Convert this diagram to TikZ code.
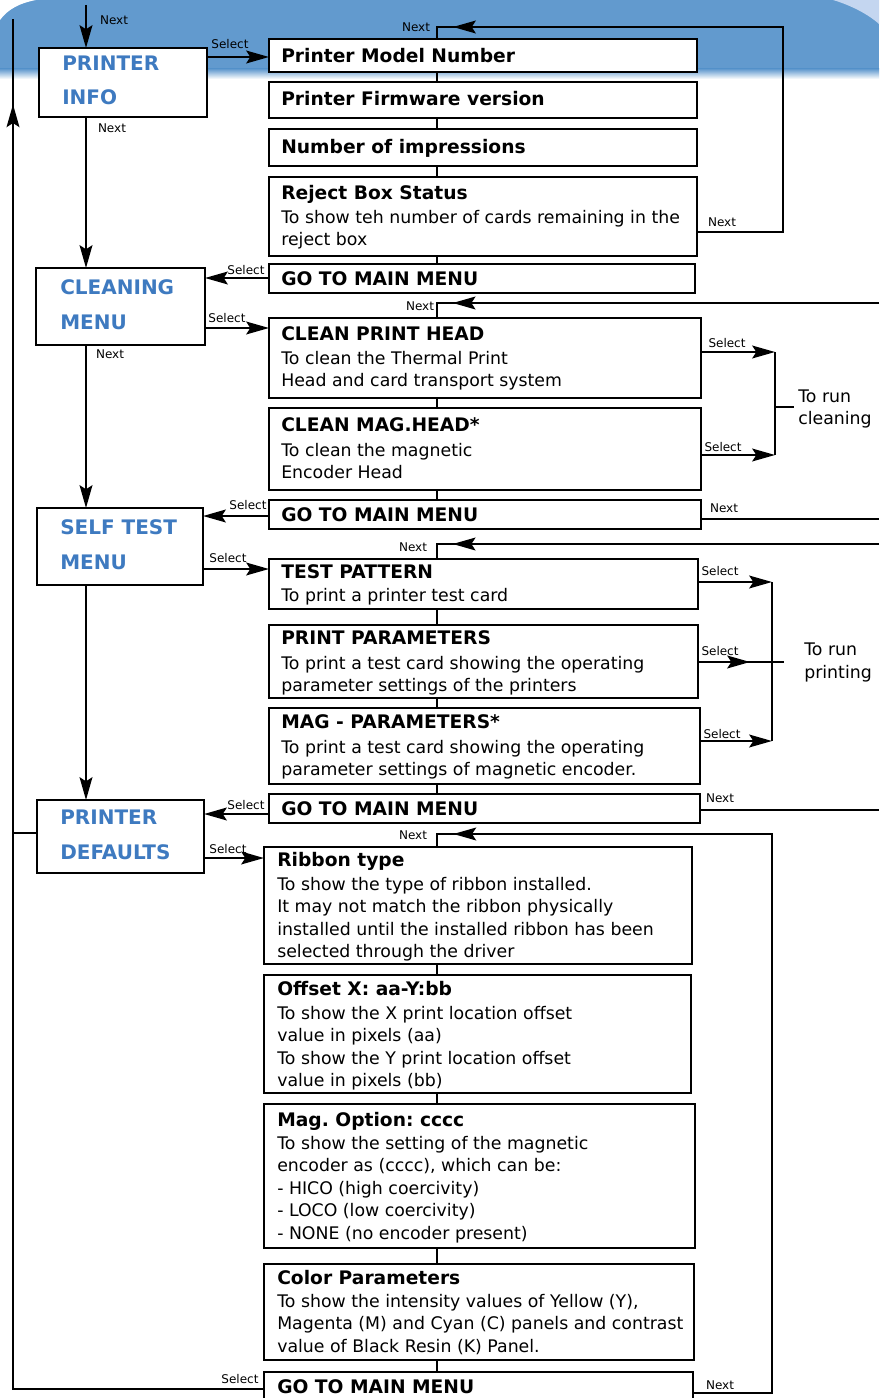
\documentclass[tikz,border=0pt]{standalone}
\usepackage{fontspec}
\setmainfont{DejaVu Sans}
\frenchspacing
\usetikzlibrary{arrows.meta,decorations.markings,calc}
\definecolor{bgblue}{RGB}{98,154,206}
\definecolor{bglight}{RGB}{196,214,240}
\definecolor{menublue}{RGB}{62,122,192}
\tikzset{
 boxst/.style={draw=black, fill=white, line width=2.2pt, inner sep=0pt, outer sep=0pt, anchor=north west},
 menust/.style={font=\fontsize{15}{18}\selectfont\bfseries, text=menublue, anchor=mid west, inner sep=0pt, yshift=-2.2pt},
 titlest/.style={font=\fontsize{14}{17}\selectfont\bfseries, anchor=mid west, inner sep=0pt, yshift=-2.2pt},
 bodyst/.style={font=\fontsize{13}{16}\selectfont, anchor=mid west, inner sep=0pt, yshift=-2.2pt},
 lblst/.style={font=\fontsize{9}{11}\selectfont, inner sep=0pt},
 conn/.style={line width=2.2pt},
 thinconn/.style={line width=1.7pt},
 arr/.style={conn, -{Stealth[length=17pt,width=9.5pt,inset=3pt]}},
 midarr/.style={conn, postaction={decorate}, decoration={markings, mark=at position #1 with {\arrow{Stealth[length=17pt,width=9.5pt,inset=3pt]}}}},
}
\newcommand\mybox[5]{\node[boxst, minimum width={(#4-#2)*0.75pt}, minimum height={(#5-#3)*0.75pt}] (#1) at (#2,#3) {};}
\newcommand\txtlines[5]{\foreach \tx [count=\i from 0] in {#5} {\node[#4] (#1-\i) at (#2,{#3+22.4*\i}) {\tx};}}
\begin{document}
\begin{tikzpicture}[x=0.75pt,y=-0.75pt]
\useasboundingbox (0,0) rectangle (879,1398);
\clip (0,0) rectangle (879,1398);
% background band
\fill[bgblue] (0,0) rectangle (879,70);
\shade[top color=bgblue, bottom color=white] (0,69) rectangle (879,79);
\fill[white] (0,20) .. controls (8,9) and (20,3) .. (36,0) -- (0,0) -- cycle;
\fill[bglight] (833,0) .. controls (850,5) and (868,14) .. (879,24) -- (879,0) -- cycle;

% menu boxes
\mybox{m1}{39}{48}{207}{117}
\mybox{m2}{36}{268}{205}{345}
\mybox{m3}{37}{508}{203}{585}
\mybox{m4}{37}{800}{204}{873}
\node[menust] (m1a) at (62,64) {PRINTER};
\node[menust] (m1b) at (62,98) {INFO};
\node[menust] (m2a) at (60,288) {CLEANING};
\node[menust] (m2b) at (60,323) {MENU};
\node[menust] (m3a) at (60,528) {SELF TEST};
\node[menust] (m3b) at (60,563) {MENU};
\node[menust] (m4a) at (60,818) {PRINTER};
\node[menust] (m4b) at (60,853) {DEFAULTS};

% group 1
\mybox{b11}{269}{39}{697}{72}
\mybox{b12}{269}{82}{697}{118}
\mybox{b13}{269}{129}{697}{166}
\mybox{b14}{269}{177}{697}{256}
\mybox{b15}{269}{264}{695}{293}
\node[titlest] (b11t) at (281,56) {Printer Model Number};
\node[titlest] (b12t) at (281,99) {Printer Firmware version};
\node[titlest] (b13t) at (281,147) {Number of impressions};
\node[titlest] (b14t) at (281,193) {Reject Box Status};
\txtlines{b14l}{281}{217}{bodyst}{To show teh number of cards remaining in the,reject box}
\node[titlest] (b15t) at (281,279) {GO TO MAIN MENU};

% group 2
\mybox{b21}{269}{318}{701}{398}
\mybox{b22}{269}{408}{701}{490}
\mybox{b23}{269}{500}{701}{529}
\node[titlest] (b21t) at (281,334) {CLEAN PRINT HEAD};
\txtlines{b21l}{281}{358}{bodyst}{To clean the Thermal Print,Head and card transport system}
\node[titlest] (b22t) at (281,425) {CLEAN MAG.HEAD*};
\txtlines{b22l}{281}{450}{bodyst}{To clean the magnetic,Encoder Head}
\node[titlest] (b23t) at (281,515) {GO TO MAIN MENU};

% group 3
\mybox{b31}{269}{559}{698}{609}
\mybox{b32}{269}{625}{698}{698}
\mybox{b33}{269}{708}{700}{784}
\mybox{b34}{269}{794}{700}{823}
\node[titlest] (b31t) at (281,572) {TEST PATTERN};
\txtlines{b31l}{281}{595}{bodyst}{To print a printer test card}
\node[titlest] (b32t) at (281,638) {PRINT PARAMETERS};
\txtlines{b32l}{281}{663}{bodyst}{To print a test card showing the operating,parameter settings of the printers}
\node[titlest] (b33t) at (281,722) {MAG - PARAMETERS*};
\txtlines{b33l}{281}{747}{bodyst}{To print a test card showing the operating,parameter settings of magnetic encoder.}
\node[titlest] (b34t) at (281,809) {GO TO MAIN MENU};

% group 4
\mybox{b41}{264}{847}{692}{964}
\mybox{b42}{264}{975}{691}{1093}
\mybox{b43}{264}{1104}{695}{1248}
\mybox{b44}{264}{1264}{694}{1360}
\mybox{b45}{264}{1372}{693}{1410}
\node[titlest] (b41t) at (277,860) {Ribbon type};
\txtlines{b41l}{277}{884}{bodyst}{To show the type of ribbon installed.,It may not match the ribbon physically,installed until the installed ribbon has been,selected through the driver}
\node[titlest] (b42t) at (277,989) {Offset X: aa-Y:bb};
\txtlines{b42l}{277}{1013}{bodyst}{To show the X print location offset,value in pixels (aa),To show the Y print location offset,value in pixels (bb)}
\node[titlest] (b43t) at (277,1120) {Mag. Option: cccc};
\txtlines{b43l}{277}{1143}{bodyst}{To show the setting of the magnetic,{encoder as (cccc), which can be:},- HICO (high coercivity),- LOCO (low coercivity),- NONE (no encoder present)}
\node[titlest] (b44t) at (277,1278) {Color Parameters};
\txtlines{b44l}{277}{1301}{bodyst}{{To show the intensity values of Yellow (Y),},Magenta (M) and Cyan (C) panels and contrast,value of Black Resin (K) Panel.}
\node[titlest] (b45t) at (277,1387) {GO TO MAIN MENU};

% thin connectors between stacked boxes
\coordinate (vx) at (437,0);
\foreach \a/\b in {b11/b12,b12/b13,b13/b14,b14/b15,b21/b22,b22/b23,b31/b32,b32/b33,b33/b34,b41/b42,b42/b43,b43/b44,b44/b45}
  \draw[thinconn] (\a.south -| vx) -- (\b.north -| vx);

% left column arrows
\coordinate (topin) at (86,5);
\draw[arr] (topin) -- (topin |- m1.north);
\draw[arr] (m1.south -| topin) -- (m2.north -| topin);
\draw[arr] (m2.south -| topin) -- (m3.north -| topin);
\draw[arr] (m3.south -| topin) -- (m4.north -| topin);
\node[lblst] (n0) at (114,20) {Next};
\node[lblst] (n1) at (112,128) {Next};
\node[lblst] (n2) at (110,354) {Next};

% select arrows between menus and groups
\draw[arr] (m1.east |- 0,57) -- (b11.west |- 0,57);
\draw[arr] (b15.west |- 0,278) -- (m2.east |- 0,278);
\draw[arr] (m2.east |- 0,328) -- (b21.west |- 0,328);
\draw[arr] (b23.west |- 0,516) -- (m3.east |- 0,516);
\draw[arr] (m3.east |- 0,569) -- (b31.west |- 0,569);
\draw[arr] (b34.west |- 0,814) -- (m4.east |- 0,814);
\draw[arr] (m4.east |- 0,858) -- (b41.west |- 0,858);
\node[lblst] (s1l) at (230,44) {Select};
\node[lblst] (s2l) at (246,270) {Select};
\node[lblst] (s3l) at (227,318) {Select};
\node[lblst] (s4l) at (248,505) {Select};
\node[lblst] (s5l) at (228,558) {Select};
\node[lblst] (s6l) at (246,805) {Select};
\node[lblst] (s7l) at (228,849) {Select};
\node[lblst] (s8l) at (240,1379) {Select};

% left return loop
\coordinate (lp1) at (13,1389);
\coordinate (lp2) at (13,19);
\draw[midarr=-64pt] (b45.west |- lp1) -- (lp1) -- (lp2);
\draw[conn] (lp1 |- 0,833) -- (m4.west |- 0,833);

% loop 1
\coordinate (c1a) at (783,232);
\coordinate (c1b) at (783,27);
\coordinate (c1c) at (437,27);
\draw[midarr=-21pt] (b14.east |- c1a) -- (c1a) -- (c1b) -- (c1c) -- (c1c |- b11.north);
\node[lblst] (n11) at (416,27) {Next};
\node[lblst] (n12) at (722,222) {Next};

% loop 2
\coordinate (r2) at (879,303);
\coordinate (c2) at (437,303);
\draw[midarr=-23pt] (r2) -- (c2) -- (c2 |- b21.north);
\coordinate (r2b) at (879,519);
\draw[conn] (b23.east |- r2b) -- (r2b);
\node[lblst] (n21) at (420,306) {Next};
\node[lblst] (n22) at (724,508) {Next};

% loop 3
\coordinate (r3) at (879,544);
\coordinate (c3) at (437,544);
\draw[midarr=-23pt] (r3) -- (c3) -- (c3 |- b31.north);
\coordinate (r3b) at (879,810);
\draw[conn] (b34.east |- r3b) -- (r3b);
\node[lblst] (n31) at (413,547) {Next};
\node[lblst] (n32) at (720,798) {Next};

% loop 4
\coordinate (c4a) at (772,1393);
\coordinate (c4b) at (772,834);
\coordinate (c4c) at (437,834);
\draw[midarr=-22pt] (b45.east |- c4a) -- (c4a) -- (c4b) -- (c4c) -- (c4c |- b41.north);
\node[lblst] (n41) at (413,835) {Next};
\node[lblst] (n42) at (720,1385) {Next};

% to run cleaning
\coordinate (cs1) at (775,352);
\coordinate (cs2) at (775,455);
\coordinate (cs3) at (794,407);
\draw[arr] (b21.east |- cs1) -- (cs1);
\draw[arr] (b22.east |- cs2) -- (cs2);
\draw[conn] (cs1) -- (cs2);
\draw[conn] (cs1 |- cs3) -- (cs3);
\node[lblst] (cl1) at (727,343) {Select};
\node[lblst] (cl2) at (723,447) {Select};
\node[bodyst] (clt1) at (798,396) {To run};
\node[bodyst] (clt2) at (798,418) {cleaning};

% to run printing
\coordinate (ps1) at (772,582);
\coordinate (ps2) at (784,662);
\coordinate (ps3) at (772,741);
\draw[arr] (b31.east |- ps1) -- (ps1);
\draw[arr] (b33.east |- ps3) -- (ps3);
\draw[conn] (ps1) -- (ps3);
\draw[midarr=39pt] (b32.east |- ps2) -- (ps2);
\node[lblst] (pl1) at (720,571) {Select};
\node[lblst] (pl2) at (720,651) {Select};
\node[lblst] (pl3) at (722,734) {Select};
\node[bodyst] (plt1) at (804,649) {To run};
\node[bodyst] (plt2) at (804,672) {printing};
\end{tikzpicture}
\end{document}
